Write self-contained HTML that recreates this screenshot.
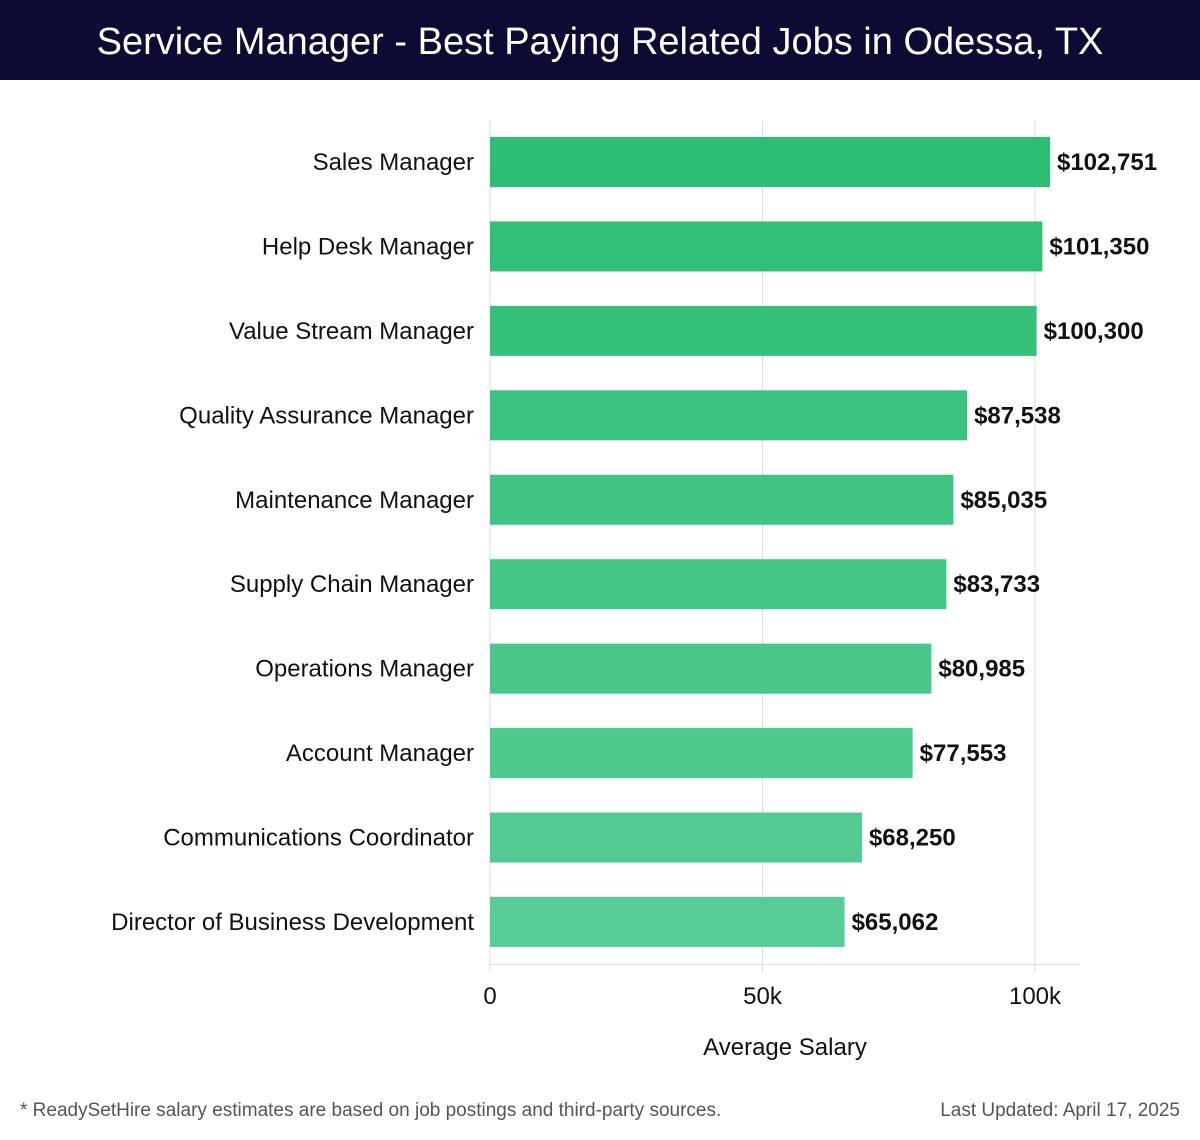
<!DOCTYPE html>
<html><head><meta charset="utf-8"><style>
body{margin:0;background:#fff;font-family:"Liberation Sans","DejaVu Sans",sans-serif;}
#wrap{position:relative;width:1200px;height:1140px;overflow:hidden;}
#hdr{position:absolute;left:0;top:0;width:1200px;height:80px;background:#0b0b33;color:#fff;font-size:38px;text-align:center;line-height:84px;}
.foot{position:absolute;top:1100px;font-size:19px;color:#555;}
</style></head><body>
<div id="wrap">
<div id="hdr">Service Manager - Best Paying Related Jobs in Odessa, TX</div>
<svg id="chart" width="1200" height="1140" style="position:absolute;left:0;top:0"></svg>
<div class="foot" style="left:20px">* ReadySetHire salary estimates are based on job postings and third-party sources.</div>
<div class="foot" style="right:20px">Last Updated: April 17, 2025</div>
</div>
<script>
const categories=["Sales Manager","Help Desk Manager","Value Stream Manager","Quality Assurance Manager","Maintenance Manager","Supply Chain Manager","Operations Manager","Account Manager","Communications Coordinator","Director of Business Development"];
const salaries=[102751,101350,100300,87538,85035,83733,80985,77553,68250,65062];
const tickValues=[0,50000,100000];
const tickLabels=["0","50k","100k"];
const NS="http://www.w3.org/2000/svg";
const svg=document.getElementById('chart');
const x0=490,pxPerUnit=(1035-490)/100000;
const xs=v=>x0+v*pxPerUnit;
const top0=137,pitch=84.44,bh=50;
const ys=i=>top0+i*pitch;
function mk(t,a){const e=document.createElementNS(NS,t);for(const k in a)e.setAttribute(k,a[k]);svg.appendChild(e);return e;}
tickValues.forEach((v,i)=>{
 const g=mk('line',{x1:xs(v),x2:xs(v),y1:120,y2:972,stroke:'#ddd','stroke-width':1});
 
 
 const t=mk('text',{x:xs(v),y:1004,'text-anchor':'middle','font-size':24,fill:'#111'});
 t.textContent=tickLabels[i];
 
 
});
const ax=mk('line',{x1:489,x2:1080,y1:964.5,y2:964.5,stroke:'#ddd','stroke-width':1});


const light=[87,204,149],dark=[44,190,116];
categories.forEach((c,i)=>{
 const f=i/(categories.length-1);
 const col=`rgb(${dark.map((d,k)=>Math.round(d+(light[k]-d)*f)).join(',')})`;
 const y=ys(i);
 const r=mk('rect',{x:x0,y:y,width:xs(salaries[i])-x0,height:bh,fill:col});
 
 
 const l=mk('text',{x:474,y:y+bh/2+8,'text-anchor':'end','font-size':24,fill:'#111'});
 l.textContent=c;
 
 
 const v=mk('text',{x:xs(salaries[i])+7,y:y+bh/2+8,'font-size':24,'font-weight':'bold',fill:'#111'});
 v.textContent='$'+salaries[i].toLocaleString('en-US');
 
 
});
const at=mk('text',{x:785,y:1055,'text-anchor':'middle','font-size':24,fill:'#111'});
at.textContent='Average Salary';


</script>
</body></html>
